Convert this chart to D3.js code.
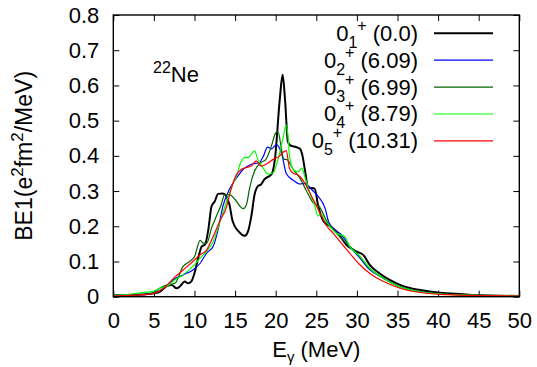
<!DOCTYPE html>
<html>
<head>
<meta charset="utf-8">
<script src="https://cdn.jsdelivr.net/npm/d3@7"></script>
<style>
  body { margin: 0; background: #fff; }
  svg { display: block; font-family: "Liberation Sans", Arial, sans-serif; }
</style>
</head>
<body>
<svg id="chart" width="537" height="367"></svg>
<script>
// BE1 strength vs E_gamma, 22Ne, one curve per initial 0+ state
const xTicks = [0, 5, 10, 15, 20, 25, 30, 35, 40, 45, 50];
const yTicks = [0, 0.1, 0.2, 0.3, 0.4, 0.5, 0.6, 0.7, 0.8];

const state1 = [[0,0.004],[2,0.005],[4,0.007],[5,0.01],[5.7,0.014],[6.6,0.03],[7.2,0.033],[7.8,0.024],[8.2,0.029],[8.8,0.043],[9.2,0.038],[9.6,0.043],[10,0.067],[10.5,0.114],[10.9,0.143],[11.3,0.148],[11.7,0.19],[12.1,0.257],[12.5,0.271],[12.9,0.292],[13.5,0.293],[13.9,0.286],[14.3,0.262],[14.7,0.214],[15.4,0.186],[16.2,0.173],[16.6,0.186],[17,0.229],[17.4,0.29],[17.8,0.314],[18.2,0.319],[18.6,0.333],[19.5,0.348],[19.9,0.39],[20.5,0.56],[20.85,0.63],[21.15,0.56],[21.5,0.44],[21.8,0.43],[22.5,0.425],[23,0.42],[23.3,0.40],[23.6,0.36],[24,0.31],[24.8,0.307],[25.2,0.262],[25.9,0.214],[26.7,0.2],[27.7,0.18],[28.7,0.147],[30,0.128],[30.8,0.118],[31.6,0.09],[32.8,0.066],[34.1,0.047],[35.7,0.03],[37.8,0.019],[40.2,0.011],[43.1,0.007],[45.2,0.004],[50,0.002]];
const state2 = [[0,0.004],[2,0.005],[4,0.007],[5,0.01],[6.2,0.024],[7.4,0.048],[8.6,0.062],[9.8,0.076],[10.7,0.095],[11.5,0.124],[12.3,0.143],[12.9,0.19],[13.5,0.257],[14.3,0.305],[15.2,0.338],[16,0.362],[17,0.376],[18,0.381],[18.5,0.40],[19,0.425],[19.5,0.42],[20.1,0.432],[20.5,0.42],[20.8,0.40],[21.3,0.35],[22.2,0.33],[23,0.32],[23.6,0.322],[24.4,0.305],[25.2,0.286],[26.1,0.25],[26.5,0.214],[27.3,0.19],[28.1,0.176],[29.1,0.143],[30.4,0.109],[31.6,0.076],[33.3,0.052],[35.3,0.028],[37.8,0.014],[41,0.007],[45,0.004],[50,0.002]];
const state3 = [[0,0.003],[2,0.004],[4,0.007],[5,0.011],[5.7,0.024],[6.6,0.033],[7.6,0.038],[8.6,0.086],[9.4,0.1],[10,0.114],[10.7,0.16],[11.1,0.152],[11.5,0.152],[12.1,0.195],[12.7,0.229],[13.3,0.262],[13.7,0.29],[14.3,0.29],[15,0.276],[15.6,0.257],[16,0.25],[16.4,0.262],[16.8,0.31],[17.4,0.357],[18.2,0.381],[18.8,0.39],[19.5,0.43],[20,0.465],[20.3,0.468],[20.7,0.42],[21,0.39],[21.3,0.39],[22.2,0.36],[23,0.336],[23.8,0.3],[24.6,0.267],[25.4,0.255],[26.3,0.214],[27.5,0.18],[28.7,0.152],[30,0.124],[31.6,0.08],[33.3,0.052],[35.3,0.028],[37.8,0.014],[41,0.007],[45,0.004],[50,0.002]];
const state4 = [[0,0.004],[2,0.007],[4,0.013],[5,0.016],[5.7,0.024],[6.6,0.03],[7.6,0.048],[8.6,0.062],[9.8,0.086],[10.7,0.11],[11.5,0.129],[12.3,0.157],[13.1,0.21],[13.9,0.267],[14.7,0.319],[15.2,0.343],[15.6,0.376],[16.2,0.395],[16.6,0.395],[17,0.405],[17.4,0.414],[17.8,0.39],[18.4,0.367],[19.1,0.348],[19.7,0.352],[20.1,0.376],[20.5,0.41],[20.9,0.45],[21.3,0.488],[21.5,0.46],[21.7,0.40],[22.2,0.36],[22.8,0.355],[23.2,0.365],[23.6,0.34],[24.2,0.295],[24.8,0.26],[25.2,0.229],[25.6,0.233],[26.3,0.21],[27.5,0.18],[28.5,0.171],[29.1,0.143],[30.4,0.114],[31.6,0.08],[33.3,0.052],[35.3,0.028],[37.8,0.014],[41,0.007],[45,0.004],[50,0.002]];
const state5 = [[0,0.002],[2,0.004],[4,0.006],[5,0.009],[6.2,0.024],[7.4,0.052],[8.6,0.076],[9.8,0.1],[10.7,0.119],[11.5,0.133],[12.3,0.171],[13.1,0.214],[13.9,0.252],[14.5,0.305],[15.2,0.348],[15.8,0.362],[16.4,0.367],[17,0.371],[17.6,0.386],[18.2,0.371],[18.8,0.376],[19.7,0.39],[20.5,0.4],[20.9,0.41],[21.3,0.415],[21.7,0.364],[22.2,0.35],[22.8,0.345],[23.6,0.322],[24.4,0.286],[25.2,0.25],[26.3,0.2],[27.1,0.18],[27.9,0.157],[29.1,0.124],[30.4,0.09],[31.6,0.066],[33.3,0.043],[35.3,0.024],[37.8,0.012],[41,0.006],[45,0.003],[50,0.002]];

const stateSub = ['1', '2', '3', '4', '5'];
const stateEnergy = ['(0.0)', '(6.09)', '(6.99)', '(8.79)', '(10.31)'];
const colors = ['#000000', '#0000ff', '#006400', '#00ff00', '#ff0000'];
const widths = [2, 1.2, 1.2, 1.2, 1.2];
const series = [state1, state2, state3, state4, state5];

const svg = d3.select('#chart');
const pLeft = 113.3, pRight = 519.3, pTop = 15, pBottom = 296.7;
const fs = 22;

const x = d3.scaleLinear().domain([0, 50]).range([pLeft, pRight]);
const y = d3.scaleLinear().domain([0, 0.8]).range([pBottom, pTop]);

function styleAxis(g) {
  g.select('.domain').remove();
  g.selectAll('.tick line').attr('stroke', '#000').attr('stroke-width', 1);
  g.selectAll('.tick text').attr('fill', '#000').style('font-size', fs + 'px')
    .style('font-family', '"Liberation Sans", Arial, sans-serif');
}

svg.append('g')
  .attr('transform', 'translate(0,' + pBottom + ')')
  .call(d3.axisBottom(x).tickValues(xTicks).tickSizeInner(-6).tickSizeOuter(0).tickPadding(16).tickFormat(d3.format('d')))
  .call(styleAxis);
svg.append('g')
  .attr('transform', 'translate(0,' + pTop + ')')
  .call(d3.axisTop(x).tickValues(xTicks).tickSizeInner(-6).tickSizeOuter(0).tickFormat(''))
  .call(styleAxis);
svg.append('g')
  .attr('transform', 'translate(' + pLeft + ',0)')
  .call(d3.axisLeft(y).tickValues(yTicks).tickSizeInner(-6).tickSizeOuter(0).tickPadding(14).tickFormat(d => d === 0 ? '0' : d3.format('.1f')(d)))
  .call(styleAxis);
svg.append('g')
  .attr('transform', 'translate(' + pRight + ',0)')
  .call(d3.axisRight(y).tickValues(yTicks).tickSizeInner(-6).tickSizeOuter(0).tickFormat(''))
  .call(styleAxis);

const line = d3.line().x(d => x(d[0])).y(d => y(d[1])).curve(d3.curveMonotoneX);

svg.append('g').selectAll('path')
  .data(series)
  .join('path')
  .attr('d', line)
  .attr('fill', 'none')
  .attr('stroke', (d, i) => colors[i])
  .attr('stroke-width', (d, i) => widths[i])
  .attr('stroke-linejoin', 'round');

svg.append('rect')
  .attr('x', pLeft).attr('y', pTop)
  .attr('width', pRight - pLeft).attr('height', pBottom - pTop)
  .attr('fill', 'none').attr('stroke', '#000').attr('stroke-width', 1.4);

// legend
const legX = 418, rowH = 26.9, row0 = 40.7;
const leg = svg.append('g');
stateSub.forEach((s, i) => {
  const by = row0 + i * rowH;
  const t = leg.append('text').attr('x', legX).attr('y', by)
    .attr('text-anchor', 'end').style('font-size', fs + 'px');
  t.append('tspan').text('0');
  t.append('tspan').attr('dy', 7).style('font-size', '16px').text(s);
  t.append('tspan').attr('dy', -17).style('font-size', '16px').text('+');
  t.append('tspan').attr('dy', 10).text(' ' + stateEnergy[i]);
  leg.append('line')
    .attr('x1', 434).attr('x2', 493)
    .attr('y1', by - 7.4).attr('y2', by - 7.4)
    .attr('stroke', colors[i]).attr('stroke-width', widths[i]);
});

// nucleus label
const nuc = svg.append('text').attr('x', 153).attr('y', 81.7).style('font-size', fs + 'px');
nuc.append('tspan').attr('dy', -9).style('font-size', '16px').text('22');
nuc.append('tspan').attr('dy', 9).text('Ne');

// axis titles
const xt = svg.append('text').attr('x', (pLeft + pRight) / 2).attr('y', 357)
  .attr('text-anchor', 'middle').style('font-size', fs + 'px');
xt.append('tspan').text('E');
xt.append('tspan').attr('dy', 5).style('font-size', '15px').text('γ');
xt.append('tspan').attr('dy', -5).text(' (MeV)');

const yt = svg.append('text')
  .attr('transform', 'translate(31.5,' + ((pTop + pBottom) / 2) + ') rotate(-90)')
  .attr('text-anchor', 'middle').style('font-size', '23px');
yt.append('tspan').text('BE1(e');
yt.append('tspan').attr('dy', -9).style('font-size', '17px').text('2');
yt.append('tspan').attr('dy', 9).text('fm');
yt.append('tspan').attr('dy', -9).style('font-size', '17px').text('2');
yt.append('tspan').attr('dy', 9).text('/MeV)');
</script>
</body>
</html>
